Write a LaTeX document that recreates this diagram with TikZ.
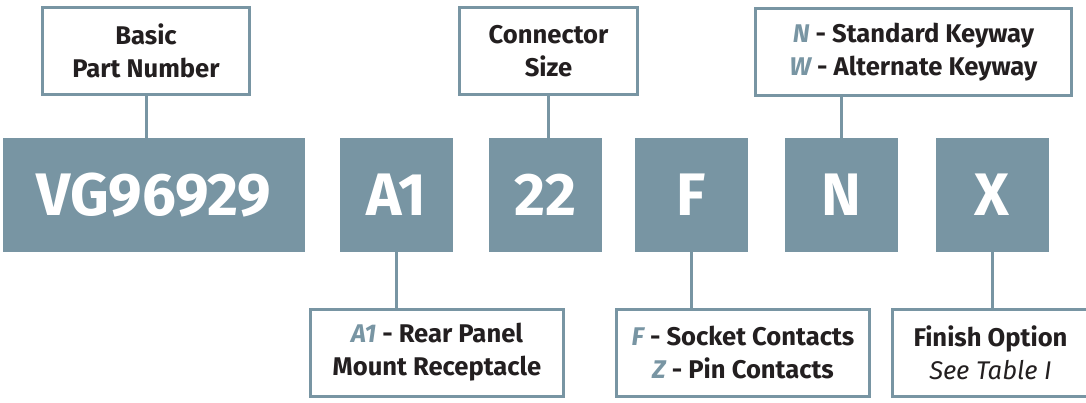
\documentclass[tikz,border=0pt]{standalone}
\usepackage{fontspec}
\setmainfont{Fira Sans}
\usetikzlibrary{positioning}
\definecolor{slate}{HTML}{7895A3}
\definecolor{ink}{HTML}{231F20}

\begin{document}
\begin{tikzpicture}[x=0.5pt,y=-0.5pt,
    code/.style={fill=slate,text=white,inner sep=0pt,
      minimum width=56.5pt,minimum height=57pt,
      font=\fontsize{30}{32}\selectfont\bfseries},
    info/.style={draw=slate,line width=1.5pt,fill=white,text=ink,
      align=center,inner sep=0pt,minimum height=43.5pt,
      font=\fontsize{12.8}{16.5}\selectfont\bfseries},
    link/.style={draw=slate,line width=1.5pt}]
  \useasboundingbox (0,0) rectangle (1086,402);
  % fields of the part number
  \node[code,minimum width=151pt] (vg) at (154,195)   {VG96929};
  \node[code]                     (a1) at (396.5,195) {A1};
  \node[code]                     (sz) at (545.5,195) {22};
  \node[code]                     (f)  at (691.5,195) {F};
  \node[code]                     (n)  at (841.5,195) {N};
  \node[code]                     (x)  at (992,195)   {X};
  % callouts above
  \node[info,minimum width=103.5pt] (basic) at (146,51)   {Basic\\Part Number};
  \node[info,minimum width=89pt]    (size)  at (548.5,51) {Connector\\Size};
  \node[info,minimum width=158pt]   (key)   at (913.5,52)
    {\textcolor{slate}{\itshape N} - Standard Keyway\\\textcolor{slate}{\itshape W} - Alternate Keyway};
  % callouts below
  \node[info,minimum width=126.5pt] (rear)     at (437,352.5)
    {\textcolor{slate}{\itshape A1} - Rear Panel\\Mount Receptacle};
  \node[info,minimum width=126.5pt] (contacts) at (743,352.5)
    {\textcolor{slate}{\itshape F} - Socket Contacts\\\textcolor{slate}{\itshape Z} - Pin Contacts};
  \node[info,minimum width=98.5pt]  (finish)   at (990.5,352.5)
    {Finish Option\\{\mdseries\itshape See Table I}};
  % leaders
  \draw[link] (basic.south) -- (basic.south |- vg.north);
  \draw[link] (size.south) -- (size.south |- sz.north);
  \draw[link] (n.north) -- (n.north |- key.south);
  \draw[link] (a1.south) -- (a1.south |- rear.north);
  \draw[link] (f.south) -- (f.south |- contacts.north);
  \draw[link] (x.south) -- (x.south |- finish.north);
\end{tikzpicture}
\end{document}
